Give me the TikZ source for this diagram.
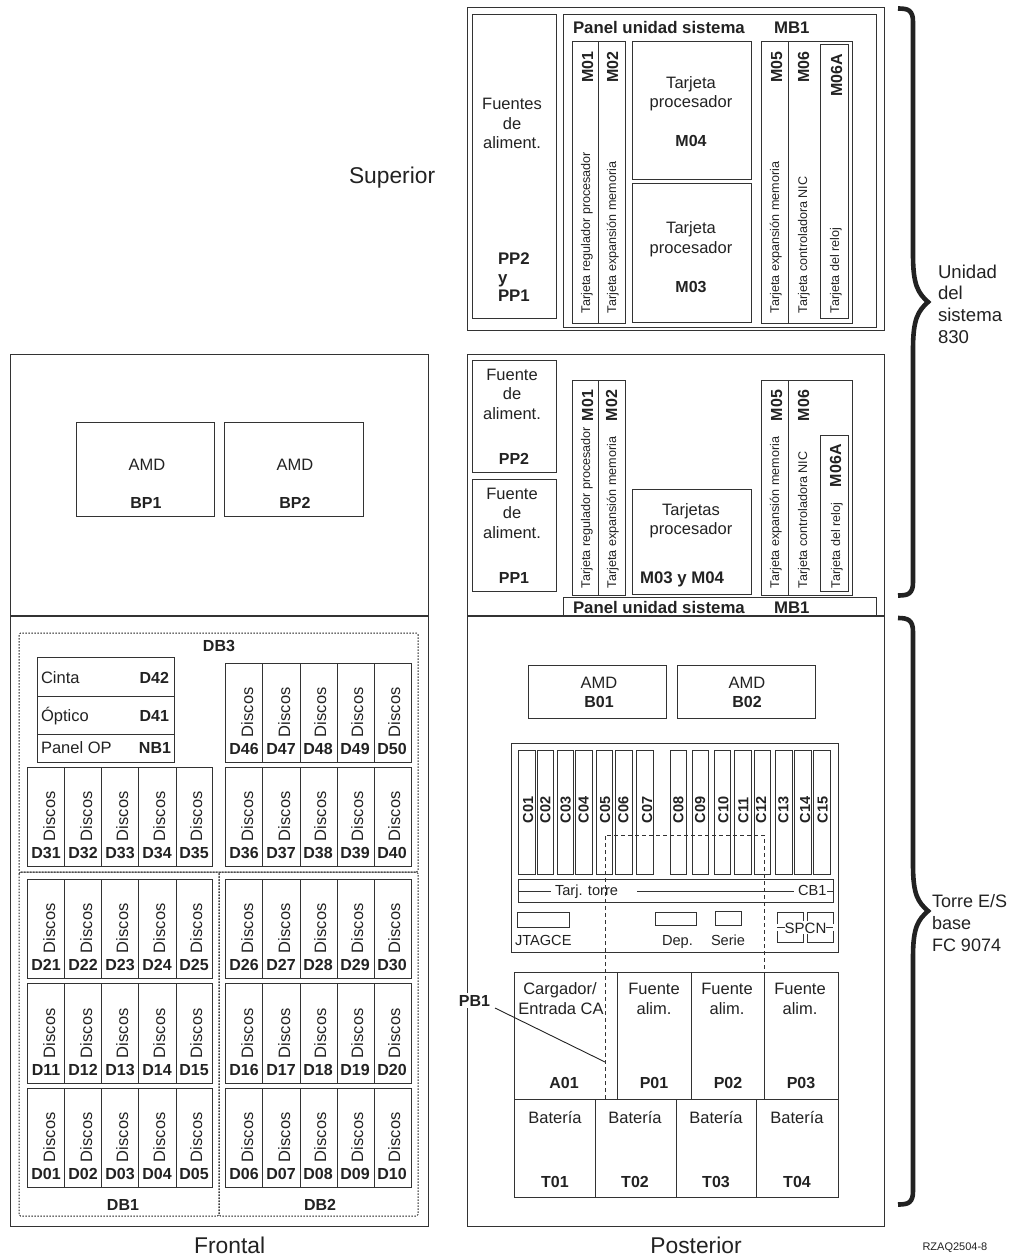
\documentclass[tikz,border=0pt]{standalone}
\usepackage{fontspec}
\setmainfont{Liberation Sans}
\definecolor{ink}{HTML}{222222}
\definecolor{wire}{HTML}{333333}
\newcommand{\rgf}{\fontsize{16.5}{18}\selectfont}
\newcommand{\bdf}{\fontsize{16}{18}\selectfont\bfseries}
\newcommand{\bdg}{\fontsize{16.8}{18}\selectfont\bfseries}
\newcommand{\smf}{\fontsize{12.6}{14}\selectfont}
\newcommand{\ctx}[3]{\node[txt,anchor=base] at (#1,#2) {\rgf #3};}
\newcommand{\cbd}[3]{\node[txt,anchor=base] at (#1,#2) {\bdf #3};}
\newcommand{\lrg}[3]{\node[txt,anchor=base west] at (#1,#2) {\rgf #3};}
\newcommand{\lbd}[3]{\node[txt,anchor=base west] at (#1,#2) {\bdg #3};}
\newcommand{\rbd}[3]{\node[txt,anchor=base east] at (#1,#2) {\bdf #3};}
\newcommand{\upbd}[3]{\node[txt,rotate=90,anchor=base west] at (#1,#2) {\bdf #3};}
\newcommand{\upsm}[3]{\node[txt,rotate=90,anchor=base west] at (#1,#2) {\smf #3};}
\newcommand{\boxr}[4]{\draw[wirebox] (#1,#2) rectangle (#3,#4);}
\newcommand{\rowL}[7]{\boxr{27}{#1}{212}{#2}
  \foreach \dx in {64,101,138,176}{\draw[wirebox] (\dx,#1) -- (\dx,#2);}
  \foreach \tx/\lx/\lab in {55/46/#3,92/83/#4,128/120/#5,165/157/#6,202/194/#7}{
    \node[txt,rotate=90,anchor=base west] at (\tx,#2-25) {\rgf Discos};
    \node[txt,anchor=base] at (\lx,#2-8) {\bdf \lab};}}
\newcommand{\rowR}[7]{\boxr{225}{#1}{411}{#2}
  \foreach \dx in {262,300,337,374}{\draw[wirebox] (\dx,#1) -- (\dx,#2);}
  \foreach \tx/\lx/\lab in {253/244/#3,290/281/#4,326/318/#5,363/355/#6,400/392/#7}{
    \node[txt,rotate=90,anchor=base west] at (\tx,#2-25) {\rgf Discos};
    \node[txt,anchor=base] at (\lx,#2-8) {\bdf \lab};}}
\tikzset{
  txt/.style={inner sep=0pt,outer sep=0pt,text=ink},
  wirebox/.style={draw=wire,line width=0.9pt},
  heavy/.style={draw=wire,line width=1.4pt},
  dotbox/.style={draw=ink,line width=1pt,dash pattern=on 1.5pt off 1.5pt,rounded corners=1.5pt},
  dashbox/.style={draw=wire,line width=0.8pt,dash pattern=on 4pt off 3pt},
  bracestroke/.style={draw=ink,line width=4.6pt,line join=miter,miter limit=10}
}
\begin{document}
\begin{tikzpicture}[x=1pt,y=-1pt]
\useasboundingbox (0,0) rectangle (1021,1257);
% --- top right unit
\boxr{467}{7}{884}{330}
\boxr{472}{14}{556}{318}
\boxr{563}{14}{876}{327}
\boxr{572}{41}{625}{323}
\draw[wirebox] (598,41) -- (598,323);
\boxr{632}{41}{751}{179}
\boxr{632}{183}{751}{322}
\boxr{761}{41}{852}{323}
\draw[wirebox] (788,41) -- (788,323);
\boxr{820}{44}{848}{318}
\ctx{512}{110}{Fuentes}
\ctx{512}{130}{de}
\ctx{512}{149}{aliment.}
\lbd{498}{264}{PP2}
\lbd{498}{283}{y}
\lbd{498}{301}{PP1}
\lbd{573}{34}{Panel unidad sistema}
\lbd{774}{34}{MB1}
\upbd{593}{83}{M01}
\upbd{618}{83}{M02}
\upbd{782}{83}{M05}
\upbd{809}{83}{M06}
\upbd{842}{97}{M06A}
\upsm{590}{313}{Tarjeta regulador procesador}
\upsm{616}{313}{Tarjeta expansión memoria}
\upsm{779}{313}{Tarjeta expansión memoria}
\upsm{807}{313}{Tarjeta controladora NIC}
\upsm{839}{313}{Tarjeta del reloj}
\ctx{691}{89}{Tarjeta}
\ctx{691}{108}{procesador}
\cbd{691}{147}{M04}
\ctx{691}{234}{Tarjeta}
\ctx{691}{254}{procesador}
\cbd{691}{292}{M03}
\node[txt,anchor=base west] at (349,184) {\fontsize{22.8}{24}\selectfont Superior};
% --- middle panels
\boxr{10}{354}{428}{616}
\boxr{467}{354}{884}{616}
\boxr{76}{422}{214}{516}
\boxr{224}{422}{363}{516}
\ctx{147}{470}{AMD}
\cbd{146}{508}{BP1}
\ctx{295}{470}{AMD}
\cbd{295}{508}{BP2}
\boxr{472}{360}{556}{472}
\boxr{472}{479}{556}{591}
\ctx{512}{380}{Fuente}
\ctx{512}{399}{de}
\ctx{512}{419}{aliment.}
\cbd{514}{464}{PP2}
\ctx{512}{499}{Fuente}
\ctx{512}{518}{de}
\ctx{512}{538}{aliment.}
\cbd{514}{583}{PP1}
\boxr{572}{380}{625}{595}
\draw[wirebox] (598,380) -- (598,595);
\boxr{632}{489}{751}{594}
\boxr{761}{380}{852}{595}
\draw[wirebox] (788,380) -- (788,595);
\boxr{820}{435}{848}{591}
\draw[wirebox] (563,616) -- (563,597) -- (876,597) -- (876,616);
\lbd{573}{613}{Panel unidad sistema}
\lbd{774}{613}{MB1}
\upbd{593}{421}{M01}
\upbd{617}{421}{M02}
\upbd{782}{421}{M05}
\upbd{809}{421}{M06}
\upbd{841}{487}{M06A}
\upsm{590}{588}{Tarjeta regulador procesador}
\upsm{616}{588}{Tarjeta expansión memoria}
\upsm{779}{588}{Tarjeta expansión memoria}
\upsm{807}{588}{Tarjeta controladora NIC}
\upsm{840}{588}{Tarjeta del reloj}
\ctx{691}{515}{Tarjetas}
\ctx{691}{534}{procesador}
\lbd{640}{583}{M03 y M04}
% --- lower panels
\boxr{10}{616}{428}{1226}
\boxr{467}{616}{884}{1226}
\draw[heavy] (10,616) -- (428,616);
\draw[heavy] (467,616) -- (884,616);
% dotted bays
\draw[dotbox] (19,872) rectangle (418,633);
\draw[dotbox] (19,872) rectangle (219,1216);
\draw[dotbox] (219,872) rectangle (418,1216);
\cbd{219}{651}{DB3}
\cbd{123}{1210}{DB1}
\cbd{320}{1210}{DB2}
\boxr{37}{657}{174}{762}
\draw[wirebox] (37,696) -- (174,696);
\draw[wirebox] (37,734) -- (174,734);
\lrg{41}{683}{Cinta}
\rbd{169}{683}{D42}
\lrg{41}{721}{Óptico}
\rbd{169}{721}{D41}
\lrg{41}{753}{Panel OP}
\rbd{171}{753}{NB1}
\rowR{663}{762}{D46}{D47}{D48}{D49}{D50}
\rowL{767}{866}{D31}{D32}{D33}{D34}{D35}
\rowR{767}{866}{D36}{D37}{D38}{D39}{D40}
\rowL{879}{978}{D21}{D22}{D23}{D24}{D25}
\rowR{879}{978}{D26}{D27}{D28}{D29}{D30}
\rowL{983}{1083}{D11}{D12}{D13}{D14}{D15}
\rowR{983}{1083}{D16}{D17}{D18}{D19}{D20}
\rowL{1088}{1187}{D01}{D02}{D03}{D04}{D05}
\rowR{1088}{1187}{D06}{D07}{D08}{D09}{D10}
\node[txt,anchor=base] at (229.7,1253) {\fontsize{22.8}{24}\selectfont Frontal};
\node[txt,anchor=base] at (696,1253) {\fontsize{22.8}{24}\selectfont Posterior};
% --- tower rear
\boxr{528}{665}{666}{718}
\boxr{677}{665}{815}{718}
\ctx{599}{688}{AMD}
\cbd{599}{707}{B01}
\ctx{747}{688}{AMD}
\cbd{747}{707}{B02}
\boxr{511}{743}{838}{952}
\foreach \xa/\xb/\tx/\lab in {518.3/535/533/C01,537/553.7/550.3/C02,557/573.7/570.7/C03,575.3/592/588.7/C04,596/612.7/610/C05,615.3/632/628.3/C06,636.7/653.3/652/C07,670.7/686.7/683.3/C08,692.3/708.7/705/C09,714/730.7/728.3/C10,734.7/751.3/748.3/C11,754/770.7/766/C12,775.3/792/788.3/C13,794.3/811/810/C14,813.7/830.3/827.7/C15}{
  \draw[wirebox] (\xa,750) rectangle (\xb,874);
  \node[txt,rotate=90,anchor=base west] at (\tx,823) {\fontsize{14.5}{16}\selectfont\bfseries \lab};
}
\boxr{518}{879}{833}{902}
\draw[wirebox] (518,891) -- (551,891);
\draw[wirebox] (637,891) -- (794,891);
\draw[wirebox] (827,891) -- (833,891);
\node[txt,anchor=base west] at (555,895.5) {\fontsize{14.6}{16}\selectfont Tarj. torre};
\node[txt,anchor=base west] at (798,895.5) {\fontsize{14.6}{16}\selectfont CB1};
\boxr{517}{912}{569}{927}
\boxr{655}{912}{696}{925}
\boxr{715}{911}{741}{925}
\node[txt,anchor=base west] at (515,945) {\fontsize{14.6}{16}\selectfont JTAGCE};
\node[txt,anchor=base west] at (662,945) {\fontsize{14.6}{16}\selectfont Dep.};
\node[txt,anchor=base west] at (711,945) {\fontsize{14.6}{16}\selectfont Serie};
\draw[wirebox] (777,924) -- (777,912) -- (803,912) -- (803,921);
\draw[wirebox] (777,931) -- (777,942) -- (803,942) -- (803,934);
\draw[wirebox] (777,927) -- (785,927);
\draw[wirebox] (807,921) -- (807,912) -- (833,912) -- (833,924);
\draw[wirebox] (807,934) -- (807,942) -- (833,942) -- (833,931);
\draw[wirebox] (826,927) -- (833,927);
\node[txt,anchor=base] at (805.5,933) {\fontsize{15}{16}\selectfont SPCN};
\boxr{514}{972}{838}{1099}
\foreach \dx in {617,691,764}{\draw[wirebox] (\dx,972) -- (\dx,1099);}
\boxr{514}{1099}{838}{1197}
\foreach \dx in {595,676,756}{\draw[wirebox] (\dx,1099) -- (\dx,1197);}
\ctx{560}{994}{Cargador/}
\ctx{561}{1014}{Entrada CA}
\foreach \cx in {654,727,800}{\ctx{\cx}{994}{Fuente}\ctx{\cx}{1014}{alim.}}
\cbd{564}{1088}{A01}
\cbd{654}{1088}{P01}
\cbd{728}{1088}{P02}
\cbd{801}{1088}{P03}
\foreach \cx/\lab in {555/T01,635/T02,716/T03,797/T04}{\ctx{\cx}{1123}{Batería}\cbd{\cx}{1187}{\lab}}
% PB1 backplane
\draw[dashbox] (605,1099) -- (605,835) -- (764,835) -- (764,972);
\node[txt,fill=white,inner xsep=1pt,inner ysep=2pt,anchor=base east] (pb) at (491,1006) {\bdf PB1};
\coordinate (pbend) at (605,1062);
\draw[draw=ink,line width=0.9pt] (495,1008) -- (pbend);
% --- braces
\draw[bracestroke] (898,8.5) .. controls (908,8.5) and (913,10) .. (913,22)
  -- (913,255) .. controls (913,285) and (918,293) .. (928,302)
  .. controls (918,311) and (913,319) .. (913,349)
  -- (913,582) .. controls (913,594) and (908,595.5) .. (898,595.5);
\draw[bracestroke] (898,618) .. controls (908,618) and (913,620) .. (913,632)
  -- (913,865) .. controls (913,895) and (918,902) .. (928,911)
  .. controls (918,920) and (913,927) .. (913,957)
  -- (913,1191) .. controls (913,1203) and (908,1204.5) .. (898,1204.5);
\foreach \yy/\ss in {278/Unidad,299/del,321/sistema,343/830}{
  \node[txt,anchor=base west] at (938,\yy) {\fontsize{18.6}{20}\selectfont \ss};}
\foreach \yy/\ss in {907/Torre E\slash S,929/base,951/FC 9074}{
  \node[txt,anchor=base west] at (932,\yy) {\fontsize{18}{20}\selectfont \ss};}
\node[txt,anchor=base west] at (922.5,1250) {\fontsize{11}{12}\selectfont RZAQ2504-8};
\end{tikzpicture}
\end{document}
